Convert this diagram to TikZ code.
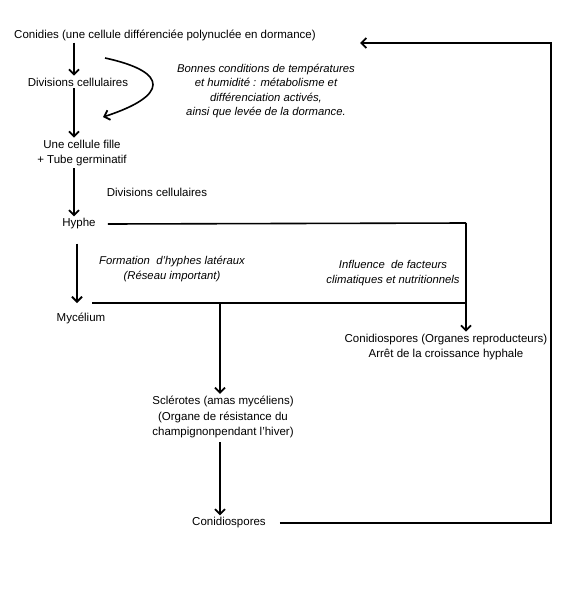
\documentclass[tikz,border=0pt]{standalone}
\usepackage{fontspec}
\setmainfont{Liberation Sans}
\usetikzlibrary{arrows.meta,positioning,calc}
\tikzset{
  ln/.style={line width=1.6pt},
  arr/.style={ln, -{Straight Barb[length=5pt,width=10pt,line width=1.8pt]}},
  lbl/.style={font=\fontsize{11.5}{15.5}\selectfont, align=center, inner sep=2pt},
  note/.style={font=\fontsize{11.3}{14.5}\selectfont\itshape, align=center, inner sep=2pt},
}
\begin{document}
\begin{tikzpicture}[x=1pt, y=-1pt]
    \useasboundingbox (0,0) rectangle (583,600);
    % main column
    \node[lbl] (conidies) at (165,35) {Conidies (une cellule différenciée polynuclée en dormance)};
    \node[lbl] (div1) at (78,82) {Divisions cellulaires};
    \node[lbl] (fille) at (82,153) {Une cellule fille\\+ Tube germinatif};
    \node[lbl] (div2) at (157,192) {Divisions cellulaires};
    \node[lbl] (hyphe) at (79,224) {Hyphe};
    \node[lbl] (myc) at (81,318) {Mycélium};
    \node[lbl] (condr) at (446,347) {Conidiospores (Organes reproducteurs)\\Arrêt de la croissance hyphale};
    \node[lbl] (sclero) at (223,417) {Sclérotes (amas mycéliens)\\(Organe de résistance du\\champignonpendant l'hiver)};
    \node[lbl] (conid) at (229,523) {Conidiospores};
    % notes
    \node[note] (bonnes) at (266,91) {Bonnes conditions de températures\\et humidité : métabolisme et\\différenciation activés,\\ainsi que levée de la dormance.};
    \node[note] (formation) at (172,269) {Formation \ d'hyphes latéraux\\(Réseau important)};
    \node[note] (influence) at (393,273) {Influence \ de facteurs\\climatiques et nutritionnels};
    % branch points
    \coordinate (cvS) at (105,58);
    \coordinate (cvE) at (103,117);
    \coordinate (hyR) at (466,223);
    \coordinate (mycL) at (92,303);
    \coordinate (retTop) at (551,43);
    \coordinate (retEnd) at (360,43);
    % arrows
    \draw[arr] ([xshift=-4pt]div1.north |- conidies.south) -- ([xshift=-4pt]div1.north);
    \draw[arr] ([xshift=-4pt]div1.south) -- ([xshift=-8pt]fille.north);
    \draw[arr] (cvS) .. controls (170,72) and (168,96) .. (cvE);
    \draw[arr] ([xshift=-8pt]fille.south) -- ([xshift=-5pt]hyphe.north);
    \draw[ln] ([xshift=10pt]hyphe.east) -- (hyR);
    \draw[arr] (hyR) -- (condr.north -| hyR);
    \draw[arr, shorten <=12pt] ([xshift=-2pt]hyphe.south) -- ([xshift=-4pt]myc.north |- mycL);
    \draw[ln] (mycL) -- (mycL -| hyR);
    \draw[arr] ([xshift=-3pt]mycL -| sclero) -- ([xshift=-3pt]sclero.north);
    \draw[arr, shorten <=2pt] ([xshift=-3pt]sclero.south) -- ([xshift=-3pt]sclero.south |- conid.north);
    \draw[arr] ([xshift=12pt]conid.east) -| (retTop) -- (retEnd);
\end{tikzpicture}
\end{document}
